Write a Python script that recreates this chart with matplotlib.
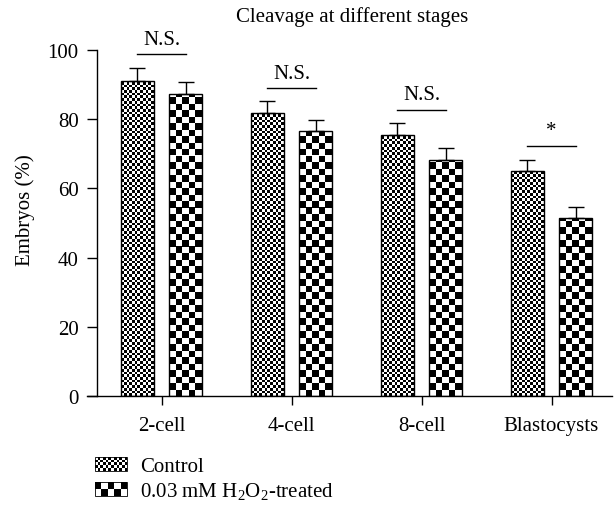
"""
Cleavage at different stages: control vs 0.03 mM H2O2-treated embryos.
"""

import numpy as np
import matplotlib
matplotlib.use("Agg")
import matplotlib.pyplot as plt
from matplotlib.patches import Rectangle
from matplotlib.collections import PatchCollection
from matplotlib.legend_handler import HandlerBase

# =========================
# DATA
# =========================
stages = ["2-cell", "4-cell", "8-cell", "Blastocysts"]
control = [91.1, 81.8, 75.4, 64.9]
control_err = [3.6, 3.5, 3.5, 3.4]
treated = [87.3, 76.7, 68.2, 51.4]
treated_err = [3.5, 3.2, 3.5, 3.1]
sig_labels = ["N.S.", "N.S.", "N.S.", "*"]
sig_heights = [98.8, 89.0, 82.7, 72.3]
yticks = [0, 20, 40, 60, 80, 100]

# =========================
# LAYOUT (pixels of a 615x506 figure)
# =========================
FIG_W, FIG_H, DPI = 615, 506, 100
AX_L, AX_R, AX_T, AX_B = 87, 612, 51, 397
GROUP0_PX, GROUP_STEP_PX = 161.5, 130
YAXIS_PX = 97
BAR_W = 0.25
OFFSET = 0.185
CTRL_COLS, TRT_COLS = 12, 5

plt.rcParams["font.family"] = ["Liberation Serif", "DejaVu Serif"]
plt.rcParams["mathtext.fontset"] = "custom"
plt.rcParams["mathtext.rm"] = "Liberation Serif"
FS = 15


def checker_cells(ax, bar, ncols, px_x, px_y):
    """Fill a bar with a black/white checkerboard of square cells."""
    x0, width, height = bar.get_x(), bar.get_width(), bar.get_height()
    cw = width / ncols
    ch = cw * px_x / px_y
    nrows = int(np.ceil(height / ch))
    cells = []
    for r in range(nrows):
        y0 = r * ch
        h = min(ch, height - y0)
        for c in range(ncols):
            if (r + c) % 2 == 1:
                cells.append(Rectangle((x0 + c * cw, y0), cw, h))
    ax.add_collection(PatchCollection(cells, facecolor="black", edgecolor="none",
                                      antialiased=False, zorder=2))


class CheckerHandler(HandlerBase):
    def __init__(self, ncols, nrows):
        super().__init__()
        self.ncols = ncols
        self.nrows = nrows

    def create_artists(self, legend, orig_handle, xdescent, ydescent,
                       width, height, fontsize, trans):
        cw = width / self.ncols
        ch = height / self.nrows
        arts = []
        for r in range(self.nrows):
            for c in range(self.ncols):
                if (r + c) % 2 == 1:
                    arts.append(Rectangle((-xdescent + c * cw, -ydescent + r * ch), cw, ch,
                                          facecolor="black", edgecolor="none",
                                          transform=trans))
        arts.append(Rectangle((-xdescent, -ydescent), width, height, facecolor="none",
                              edgecolor="black", linewidth=0.6, transform=trans))
        return arts


fig = plt.figure(figsize=(FIG_W / DPI, FIG_H / DPI), dpi=DPI)
ax = fig.add_axes([AX_L / FIG_W, 1 - AX_B / FIG_H,
                   (AX_R - AX_L) / FIG_W, (AX_B - AX_T) / FIG_H])

xmin = (AX_L - GROUP0_PX) / GROUP_STEP_PX
xmax = (AX_R - GROUP0_PX) / GROUP_STEP_PX
ax.set_xlim(xmin, xmax)
ax.set_ylim(0, 100)
px_x = GROUP_STEP_PX
px_y = (AX_B - AX_T) / 100.0

x = np.arange(len(stages))
bars_c = ax.bar(x - OFFSET, control, BAR_W, facecolor="none", edgecolor="black",
                linewidth=1.0, zorder=3)
bars_t = ax.bar(x + OFFSET, treated, BAR_W, facecolor="none", edgecolor="black",
                linewidth=1.0, zorder=3)
for b in bars_c:
    checker_cells(ax, b, CTRL_COLS, px_x, px_y)
for b in bars_t:
    checker_cells(ax, b, TRT_COLS, px_x, px_y)

ax.errorbar(x - OFFSET, control, yerr=[np.zeros(len(x)), control_err], fmt="none",
            ecolor="black", elinewidth=1.0, capsize=5.5, capthick=1.0, zorder=4)
ax.errorbar(x + OFFSET, treated, yerr=[np.zeros(len(x)), treated_err], fmt="none",
            ecolor="black", elinewidth=1.0, capsize=5.5, capthick=1.0, zorder=4)

# significance marks
for i, (lab, h) in enumerate(zip(sig_labels, sig_heights)):
    ax.plot([i - OFFSET, i + OFFSET], [h, h], color="black", lw=1.0,
            clip_on=False, zorder=4)
    ax.text(i, h + 1.6, lab, ha="center", va="bottom", fontsize=FS,
            clip_on=False)

# axes styling
for s in ("top", "right"):
    ax.spines[s].set_visible(False)
ax.spines["left"].set_position(("data", (YAXIS_PX - GROUP0_PX) / GROUP_STEP_PX))
ax.spines["left"].set_bounds(0, 100)
ax.spines["left"].set_linewidth(1.0)
ax.spines["bottom"].set_linewidth(1.0)
ax.set_yticks(yticks)
ax.set_xticks(x)
ax.set_xticklabels(stages)
ax.tick_params(axis="y", direction="out", length=7.2, width=1.0, pad=6, labelsize=FS)
ax.tick_params(axis="x", direction="out", length=6.5, width=1.0, pad=8, labelsize=FS)

fig.text(25 / FIG_W, 1 - 210 / FIG_H, "Embryos (%)", rotation=90,
         ha="center", va="center", fontsize=FS)
fig.text(352 / FIG_W, 1 - 17 / FIG_H, "Cleavage at different stages",
         ha="center", va="center", fontsize=FS)

# legend
h_c = Rectangle((0, 0), 1, 1)
h_t = Rectangle((0, 0), 1, 1)
fig.legend([h_c, h_t], ["Control", "0.03 mM H$_\\mathregular{2}$O$_\\mathregular{2}$-treated"],
           handler_map={h_c: CheckerHandler(CTRL_COLS, 5), h_t: CheckerHandler(TRT_COLS, 2)},
           loc="upper left", bbox_to_anchor=(95 / FIG_W, 1 - 458 / FIG_H),
           frameon=False, fontsize=FS, borderpad=0, borderaxespad=0,
           handlelength=1.55, handleheight=0.62, handletextpad=0.6,
           labelspacing=0.2)

fig.savefig("out.png", dpi=DPI)
